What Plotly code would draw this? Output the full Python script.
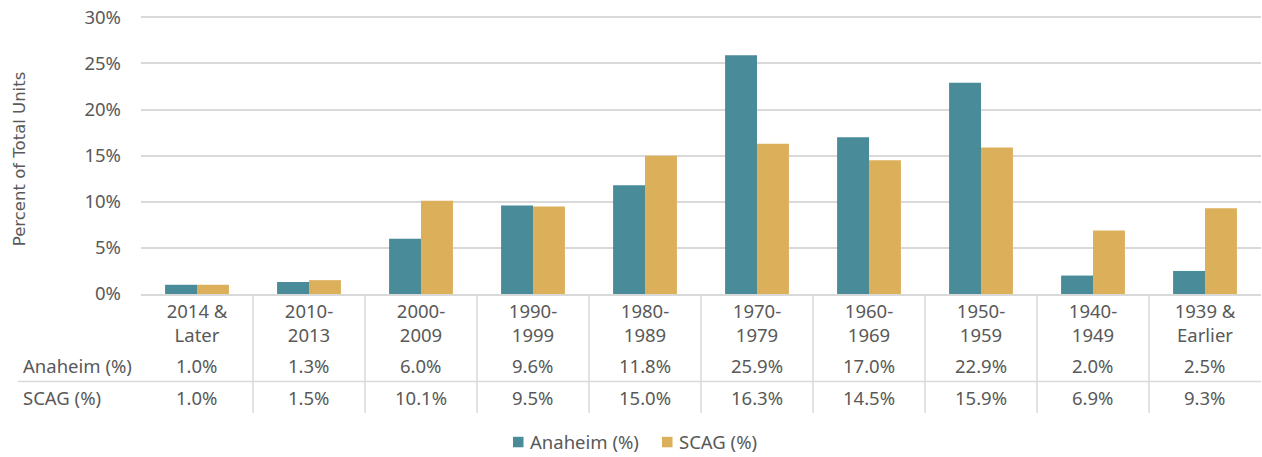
import plotly.graph_objects as go

categories = ["2014 &<br>Later", "2010-<br>2013", "2000-<br>2009", "1990-<br>1999", "1980-<br>1989",
              "1970-<br>1979", "1960-<br>1969", "1950-<br>1959", "1940-<br>1949", "1939 &<br>Earlier"]
anaheim = [1.0, 1.3, 6.0, 9.6, 11.8, 25.9, 17.0, 22.9, 2.0, 2.5]
scag = [1.0, 1.5, 10.1, 9.5, 15.0, 16.3, 14.5, 15.9, 6.9, 9.3]
series_names = ["Anaheim (%)", "SCAG (%)"]
y_ticks = [0, 5, 10, 15, 20, 25, 30]
y_tick_text = ["0%", "5%", "10%", "15%", "20%", "25%", "30%"]

TEAL = "#4A8B99"
GOLD = "#DCAF5A"
TXT = "#595959"
GRID = "#D9D9D9"
FONT = "Noto Sans"
TITLE_FONT = "DejaVu Sans"
FS = 18.5

# body margin removed via post_script, so figure starts at page (0, 0)
OFF = 0
W, H = 1262 - OFF, 457 - OFF
YMAX = 30.15
PX0, PX1 = 141, 1261
PY1 = 294
PY0 = PY1 - 277 * YMAX / 30          # page y of plot top
L, R, T, B = PX0 - OFF, (W + OFF) - PX1, PY0 - OFF, (H + OFF) - PY1
pw, ph = PX1 - PX0, PY1 - PY0

def px(page_x):
    return (page_x - PX0) / pw

def py(page_y):
    return (PY1 - page_y) / ph

x = list(range(len(categories)))

fig = go.Figure()
fig.add_trace(go.Bar(x=x, y=anaheim, name=series_names[0], marker_color=TEAL, marker_line_width=0))
fig.add_trace(go.Bar(x=x, y=scag, name=series_names[1], marker_color=GOLD, marker_line_width=0))

shapes = []
for b in range(len(categories) - 1):
    shapes.append(dict(type="line", xref="x", yref="paper", x0=b + 0.5, x1=b + 0.5,
                       y0=0, y1=py(413), line=dict(color=GRID, width=1.5)))
shapes.append(dict(type="line", xref="paper", yref="paper",
                   x0=px(18), x1=1, y0=py(381.5), y1=py(381.5),
                   line=dict(color=GRID, width=1.5)))

annotations = []
for i, (vals, ypix) in enumerate([(anaheim, 366), (scag, 398)]):
    annotations.append(dict(xref="paper", yref="paper", x=px(21), y=py(ypix),
                            text=series_names[i], showarrow=False, xanchor="left", yanchor="middle",
                            font=dict(family=FONT, size=FS, color=TXT)))
    for j, v in enumerate(vals):
        annotations.append(dict(xref="x", yref="paper", x=j, y=py(ypix), text=f"{v:.1f}%",
                                showarrow=False, xanchor="center", yanchor="middle",
                                font=dict(family=FONT, size=FS, color=TXT)))
annotations.append(dict(xref="paper", yref="paper", x=px(19), y=py(159),
                        text="Percent of Total Units", textangle=-90, showarrow=False,
                        xanchor="center", yanchor="middle",
                        font=dict(family=TITLE_FONT, size=16.5, color=TXT)))

# manual legend (square swatch + label)
legend_items = [(series_names[0], TEAL, 513, 528), (series_names[1], GOLD, 662, 677)]
for name, col, sx, tx in legend_items:
    shapes.append(dict(type="rect", xref="paper", yref="paper", x0=px(sx), x1=px(sx + 10.5),
                       y0=py(447.5), y1=py(437), fillcolor=col, line=dict(width=0)))
    annotations.append(dict(xref="paper", yref="paper", x=px(tx), y=py(442), text=name,
                            showarrow=False, xanchor="left", yanchor="middle",
                            font=dict(family=FONT, size=FS, color=TXT)))

fig.update_layout(
    width=W, height=H,
    margin=dict(l=L, r=R, t=T, b=B, autoexpand=False),
    paper_bgcolor="white", plot_bgcolor="white",
    barmode="group", bargap=0.43, bargroupgap=0,
    font=dict(family=FONT, size=FS, color=TXT),
    showlegend=False,
    shapes=shapes,
    annotations=annotations,
)
fig.update_xaxes(tickmode="array", tickvals=x, ticktext=categories, range=[-0.5, 9.5],
                 showline=True, linecolor=GRID, linewidth=1.5, ticks="", showgrid=False,
                 automargin=False, tickfont=dict(family=FONT, size=FS, color=TXT))
fig.update_yaxes(range=[0, YMAX], tickmode="array", tickvals=y_ticks, ticktext=y_tick_text,
                 showgrid=True, gridcolor=GRID, gridwidth=1.5, zeroline=False, ticks="",
                 ticklabelstandoff=19, automargin=False, ticklabeloverflow="allow",
                 tickfont=dict(family=FONT, size=FS, color=TXT))

fig.write_html("out.html", config={"displayModeBar": False},
               post_script="document.body.style.margin='0';document.body.style.overflow='hidden';")
